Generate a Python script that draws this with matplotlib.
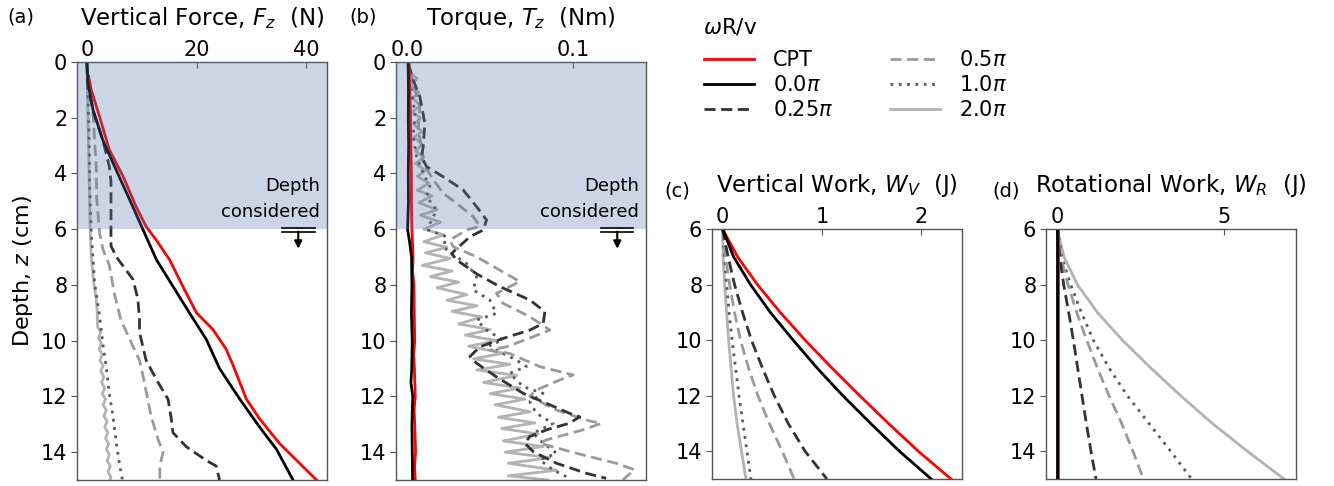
import matplotlib
matplotlib.use('Agg')
import matplotlib.pyplot as plt

plt.rcParams['font.family'] = ['DejaVu Sans']
plt.rcParams['mathtext.fontset'] = 'dejavusans'

# ---------------- data ----------------
labels = ['CPT', '0.0$\\pi$', '0.25$\\pi$', '0.5$\\pi$', '1.0$\\pi$', '2.0$\\pi$']
colors = ['red', 'black', '#333333', '#9a9a9a', '#5a5a5a', '#b3b3b3']
styles = ['-', '-', (0, (4, 2)), (0, (4, 2)), (0, (1, 2)), '-']

# (a) vertical force (N) vs depth (cm)
z_F_cpt = [0.5, 1.0, 1.95, 3.15, 4.1, 5.2, 5.9, 6.4, 7.1, 8.05, 9.0, 9.6, 10.3, 10.9, 12.1, 12.8, 13.7, 14.4, 15.0]
F_cpt = [0.3, 0.8, 2.3, 4.1, 6.6, 9.0, 10.8, 12.7, 15.1, 17.5, 20.0, 23.0, 25.4, 26.7, 29.1, 31.5, 35.2, 38.8, 41.9]
z_F_00 = [0, 0.75, 1.7, 2.8, 3.9, 5.2, 6.0, 7.1, 8.05, 9.0, 9.96, 11.0, 12.1, 13.1, 13.9, 15.0]
F_00 = [0, 0.2, 1.1, 2.9, 5.4, 8.4, 10.2, 12.7, 15.7, 18.7, 21.8, 24.2, 27.9, 31.5, 34.6, 37.6]
z_F_025 = [0, 0.9, 1.8, 2.8, 3.75, 4.3, 5.5, 6.6, 7.0, 7.8, 8.5, 9.25, 9.7, 10.7, 11.4, 12.1, 12.8, 13.3, 13.8, 14.3, 14.5, 15.0]
F_025 = [0, 0.2, 1.2, 2.9, 4.1, 4.4, 4.4, 4.4, 5.4, 8.4, 9.3, 9.6, 9.6, 10.8, 12.7, 14.8, 15.4, 15.7, 18.1, 21.8, 23.6, 24.2]
z_F_05 = [0, 0.87, 1.7, 2.8, 3.75, 4.9, 6.1, 6.7, 7.3, 8.3, 9.25, 10.2, 10.7, 11.5, 12.7, 13.55, 14.0, 14.5, 15.0]
F_05 = [0, 0.2, 1.1, 1.4, 1.7, 1.8, 2.3, 2.9, 4.1, 5.0, 6.2, 8.4, 9.6, 10.5, 11.7, 13.0, 13.9, 13.3, 13.3]
z_F_10 = [0, 0.75, 2.55, 4.34, 6.1, 7.9, 9.1, 10.1, 10.9, 11.9, 12.7, 13.7, 14.5, 15.0]
F_10 = [0, 0.1, 0.4, 0.5, 0.8, 1.4, 2.3, 2.9, 3.5, 4.1, 4.75, 5.4, 6.0, 6.5]
z_F_20 = [0, 1, 2, 3, 4, 5, 6, 7, 8, 8.5, 9.0, 9.5, 9.7, 9.9, 10.1, 10.3, 10.5, 10.7, 10.9, 11.1, 11.3,
          11.5, 11.7, 11.9, 12.1, 12.3, 12.5, 12.7, 12.9, 13.1, 13.3, 13.5, 13.7, 13.9, 14.1, 14.3,
          14.5, 14.7, 14.9, 15.0]
F_20 = [0, 0.1, 0.2, 0.3, 0.4, 0.5, 0.6, 0.8, 1.3, 1.7, 1.9, 1.95, 2.52, 2.1, 2.67, 2.24, 2.81, 2.39, 2.96,
        2.53, 3.1, 2.68, 3.25, 2.82, 3.4, 2.97, 3.54, 3.11, 3.69, 3.26, 3.83, 3.4, 3.98, 3.55, 4.12,
        3.7, 4.27, 3.84, 4.41, 4.2]

# (b) torque (Nm) vs depth (cm)
z_T_cpt = [0, 1, 2, 3, 4, 5, 6, 7, 7.5, 8, 9, 10, 10.5, 11, 12, 12.5, 13, 14, 14.5, 15]
T_cpt = [0.001, 0.0015, 0.002, 0.0022, 0.0025, 0.0025, 0.0028, 0.0035, 0.0032, 0.004, 0.0042, 0.0045,
         0.0038, 0.0043, 0.0048, 0.0041, 0.0045, 0.005, 0.0044, 0.0048]
z_T_00 = [0, 1, 2, 3, 4, 5, 6, 6.5, 7, 8, 9, 10, 11, 11.5, 12, 13, 14, 15]
T_00 = [0.0005, 0.0007, 0.0006, 0.0008, 0.0006, 0.0007, 0.0002, 0.0015, 0.0026, 0.0028, 0.0025, 0.003,
        0.0027, 0.0022, 0.0033, 0.0028, 0.003, 0.0032]
z_T_025 = [0.05, 0.65, 1.25, 2.2, 3.04, 3.4, 3.75, 4.12, 4.59, 5.19, 5.67, 6.03, 6.27, 6.87, 7.1, 7.6, 8.06,
           8.54, 8.96, 9.38, 9.62, 9.92, 10.22, 10.57, 10.81, 11.3, 11.89, 12.25, 12.61, 12.73, 12.96,
           13.2, 13.44, 13.68, 13.98, 14.4, 14.76, 14.94]
T_025 = [0.0006, 0.0036, 0.0076, 0.0106, 0.0096, 0.0086, 0.0116, 0.0217, 0.0337, 0.0418, 0.0478, 0.0458,
         0.0378, 0.0267, 0.0297, 0.0418, 0.0558, 0.0739, 0.083, 0.082, 0.0739, 0.0578, 0.0438, 0.0378,
         0.0418, 0.0538, 0.0699, 0.084, 0.098, 0.104, 0.098, 0.084, 0.0739, 0.0709, 0.0759, 0.09, 0.108, 0.12]
z_T_05 = [0.29, 1.0, 1.6, 2.44, 3.04, 3.63, 4.23, 4.71, 5.07, 5.55, 5.9, 6.03, 6.39, 6.63, 6.99, 7.47, 7.88,
          8.3, 8.66, 9.14, 9.62, 9.86, 10.22, 10.34, 10.46, 10.93, 11.23, 11.41, 11.77, 12.0, 12.49, 12.85,
          12.97, 13.2, 13.56, 13.68, 14.04, 14.4, 14.63, 15.0]
T_05 = [0.0016, 0.0046, 0.0076, 0.0066, 0.0086, 0.0096, 0.0157, 0.0217, 0.0297, 0.0398, 0.0438, 0.0357,
        0.0257, 0.0277, 0.0418, 0.0558, 0.0679, 0.0538, 0.0578, 0.0739, 0.086, 0.0759, 0.0598, 0.0498,
        0.0618, 0.0799, 0.1, 0.092, 0.0779, 0.0739, 0.09, 0.108, 0.117, 0.106, 0.0839, 0.0799, 0.102,
        0.126, 0.137, 0.130]
z_T_10 = [0.65, 1.84, 2.68, 3.4, 3.99, 4.47, 4.83, 5.31, 5.79, 6.03, 6.27, 6.63, 6.87, 7.23, 7.71, 8.18,
          8.54, 9.02, 9.26, 9.62, 9.98, 10.16, 10.34, 10.7, 10.93, 11.17, 11.65, 11.89, 12.19, 12.61,
          12.97, 13.32, 13.68, 14.04, 14.28, 14.64, 14.94]
T_10 = [0.0016, 0.0046, 0.0036, 0.0056, 0.0096, 0.0137, 0.0116, 0.0177, 0.0137, 0.0127, 0.0237, 0.0217,
        0.0267, 0.0357, 0.0418, 0.0398, 0.0498, 0.0538, 0.0418, 0.0478, 0.0578, 0.0498, 0.0538, 0.0659,
        0.0719, 0.0618, 0.0699, 0.0819, 0.0739, 0.0779, 0.088, 0.0759, 0.082, 0.09, 0.08, 0.088, 0.098]
z_T_20 = [0.0, 0.4, 0.6, 0.85, 1.1, 1.3, 1.55, 1.8, 2.0, 2.25, 2.5, 2.7, 2.95, 3.2, 3.4, 3.65, 3.9, 4.1,
          4.35, 4.6, 4.8, 5.05, 5.3, 5.5, 5.75, 6.0, 6.2, 6.45, 6.65, 6.85, 7.05, 7.3, 7.5, 7.7, 7.9, 8.1,
          8.35, 8.55, 8.75, 8.95, 9.15, 9.4, 9.6, 9.8, 10.0, 10.2, 10.45, 10.65, 10.85, 11.05, 11.25, 11.5,
          11.7, 11.9, 12.1, 12.3, 12.55, 12.75, 12.95, 13.15, 13.35, 13.6, 13.8, 14.0, 14.2, 14.4, 14.65,
          14.85, 15.0]
T_20 = [0.001, 0.002, 0.006, 0.002, 0.007, 0.003, 0.008, 0.003, 0.008, 0.004, 0.009, 0.004, 0.009, 0.005,
        0.010, 0.005, 0.011, 0.006, 0.013, 0.006, 0.015, 0.007, 0.018, 0.008, 0.020, 0.010, 0.022, 0.010,
        0.024, 0.011, 0.026, 0.009, 0.027, 0.014, 0.031, 0.018, 0.036, 0.024, 0.042, 0.027, 0.045, 0.031,
        0.050, 0.035, 0.054, 0.037, 0.058, 0.040, 0.062, 0.042, 0.066, 0.046, 0.068, 0.050, 0.071, 0.053,
        0.074, 0.055, 0.077, 0.057, 0.079, 0.058, 0.082, 0.059, 0.086, 0.061, 0.090, 0.061, 0.085]

# (c) vertical work (J) vs depth (cm)
z_work = [6, 7, 8, 9, 10, 11, 12, 13, 14, 15]
WV_cpt = [0, 0.15, 0.35, 0.58, 0.83, 1.10, 1.38, 1.67, 1.97, 2.30]
WV_00 = [0, 0.11, 0.28, 0.48, 0.71, 0.95, 1.21, 1.49, 1.78, 2.10]
WV_025 = [0, 0.055, 0.12, 0.20, 0.29, 0.40, 0.52, 0.66, 0.83, 1.05]
WV_05 = [0, 0.03, 0.07, 0.12, 0.18, 0.26, 0.355, 0.47, 0.60, 0.72]
WV_10 = [0, 0.02, 0.04, 0.065, 0.095, 0.13, 0.165, 0.205, 0.245, 0.285]
WV_20 = [0, 0.005, 0.02, 0.04, 0.06, 0.085, 0.11, 0.145, 0.19, 0.235]

# (d) rotational work (J) vs depth (cm)
WR_cpt = [0.02, 0.02, 0.02, 0.02, 0.02, 0.02, 0.02, 0.02, 0.02, 0.02]
WR_00 = [0, 0, 0, 0, 0, 0, 0, 0, 0, 0]
WR_025 = [0, 0.07, 0.19, 0.34, 0.48, 0.61, 0.74, 0.87, 1.01, 1.16]
WR_05 = [0, 0.10, 0.32, 0.58, 0.88, 1.20, 1.55, 1.93, 2.27, 2.58]
WR_10 = [0, 0.13, 0.40, 0.72, 1.08, 1.55, 2.10, 2.75, 3.40, 4.03]
WR_20 = [0, 0.20, 0.60, 1.20, 1.95, 2.80, 3.70, 4.65, 5.70, 6.80]

panel_a = [(F_cpt, z_F_cpt), (F_00, z_F_00), (F_025, z_F_025), (F_05, z_F_05), (F_10, z_F_10), (F_20, z_F_20)]
panel_b = [(T_cpt, z_T_cpt), (T_00, z_T_00), (T_025, z_T_025), (T_05, z_T_05), (T_10, z_T_10), (T_20, z_T_20)]
panel_c = [(w, z_work) for w in [WV_cpt, WV_00, WV_025, WV_05, WV_10, WV_20]]
panel_d = [(w, z_work) for w in [WR_cpt, WR_00, WR_025, WR_05, WR_10, WR_20]]

# ---------------- figure ----------------
W, H = 1334, 486
fig = plt.figure(figsize=(W / 100, H / 100), dpi=100)


def px_axes(left, top, right, bottom):
    return fig.add_axes([left / W, 1 - bottom / H, (right - left) / W, (bottom - top) / H])


ax_a = px_axes(77, 62, 327, 480)
ax_b = px_axes(396, 62, 646, 480)
ax_c = px_axes(712, 229, 962, 479)
ax_d = px_axes(1046, 229, 1296, 479)

draw_order = [5, 4, 3, 2, 0, 1]
handles = [None] * 6
for ax, series in [(ax_a, panel_a), (ax_b, panel_b), (ax_c, panel_c), (ax_d, panel_d)]:
    for i in draw_order:
        x, z = series[i]
        ln, = ax.plot(x, z, color=colors[i], ls=styles[i], lw=2.0, zorder=2)
        handles[i] = ln

span_col = '#5577aa'


def depth_marker(ax):
    ax.axhspan(0, 6, color=span_col, alpha=0.3, lw=0, zorder=3)
    tr = ax.get_yaxis_transform()
    ax.text(0.972, 5.72, 'Depth\nconsidered', transform=tr, ha='right', va='bottom',
            fontsize=13, linespacing=1.6, zorder=5)
    ax.plot([0.82, 0.95], [5.97, 5.97], transform=tr, color='k', lw=1.2, zorder=5, clip_on=False)
    ax.plot([0.82, 0.95], [6.09, 6.09], transform=tr, color='k', lw=1.2, zorder=5, clip_on=False)
    ax.annotate('', xy=(0.885, 6.7), xytext=(0.885, 6.09), xycoords=tr, textcoords=tr,
                arrowprops=dict(arrowstyle='-|>', color='k', lw=1.5, mutation_scale=11,
                                shrinkA=0, shrinkB=0), zorder=5)


for ax in [ax_a, ax_b]:
    ax.set_ylim(15, 0)
    ax.set_yticks(range(0, 15, 2))
    depth_marker(ax)
for ax in [ax_c, ax_d]:
    ax.set_ylim(15, 6)
    ax.set_yticks(range(6, 15, 2))

ax_a.set_xlim(-1.8, 43.8)
ax_a.set_xticks([0, 20, 40])
ax_b.set_xlim(-0.0068, 0.144)
ax_b.set_xticks([0.0, 0.1])
ax_b.set_xticklabels(['0.0', '0.1'])
ax_c.set_xlim(-0.107, 2.41)
ax_c.set_xticks([0, 1, 2])
ax_d.set_xlim(-0.34, 7.16)
ax_d.set_xticks([0, 5])

titles = ['Vertical Force, $F_z$  (N)', 'Torque, $T_z$  (Nm)',
          'Vertical Work, $W_V$  (J)', 'Rotational Work, $W_R$  (J)']
title_y = [1.0885, 1.0885, 1.148, 1.148]
tags = ['(a)', '(b)', '(c)', '(d)']
tag_pos = [(-0.28, 1.085), (-0.185, 1.085), (-0.19, 1.115), (-0.215, 1.115)]
for ax, t, ty, tag, tp in zip([ax_a, ax_b, ax_c, ax_d], titles, title_y, tags, tag_pos):
    ax.xaxis.tick_top()
    ax.tick_params(axis='x', direction='in', length=4, pad=1.7, labelsize=15, color='#555555')
    ax.tick_params(axis='y', direction='out', length=4, pad=3, labelsize=15, color='#555555')
    for s in ax.spines.values():
        s.set_color('#555555')
        s.set_linewidth(1.0)
    ax.set_title(t, fontsize=16.5, y=ty, pad=0)
    ax.text(tp[0], tp[1], tag, transform=ax.transAxes, fontsize=14, ha='left', va='bottom')

ax_a.set_ylabel('Depth, $z$ (cm)', fontsize=16, labelpad=4)

fig.text(703 / W, 1 - 27 / H, '$\\omega$R/v', fontsize=15.5, ha='left', va='center')
fig.legend([handles[i] for i in range(6)], labels, loc='upper left', bbox_to_anchor=(0.5135, 0.935),
           ncol=2, frameon=False, fontsize=15, handlelength=2.4, handletextpad=0.9,
           labelspacing=0.23, columnspacing=2.75)

fig.savefig('out.png', dpi=100)
